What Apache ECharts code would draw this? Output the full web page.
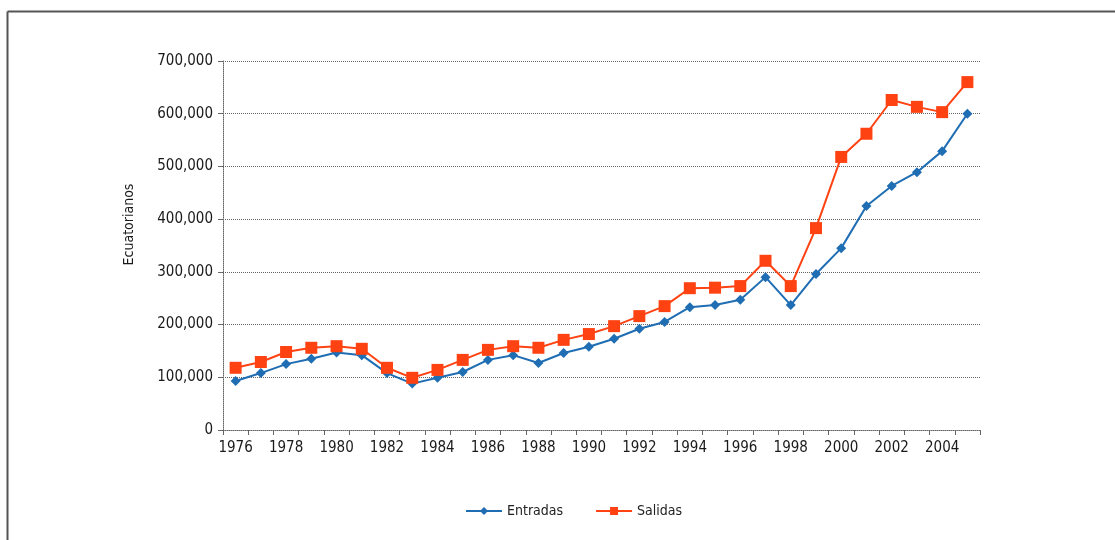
<!DOCTYPE html>
<html>
<head>
<meta charset="utf-8">
<script src="https://cdn.jsdelivr.net/npm/echarts@6/dist/echarts.min.js"></script>
<style>
html,body{margin:0;padding:0;background:#fff;}
#main{width:1115px;height:540px;}
</style>
</head>
<body>
<div id="main"></div>
<script>
const years = ['1976','1977','1978','1979','1980','1981','1982','1983','1984','1985','1986','1987','1988','1989','1990','1991','1992','1993','1994','1995','1996','1997','1998','1999','2000','2001','2002','2003','2004','2005'];
const entradas = [93000,108000,125000,135000,147000,142000,108000,88000,99000,110000,133000,142000,127000,146000,158000,173000,192000,205000,233000,237000,247000,290000,237000,296000,345000,425000,463000,489000,529000,600000];
const salidas = [118000,129000,148000,156000,159000,154000,118000,99000,114000,133000,152000,159000,156000,171000,182000,197000,216000,235000,269000,270000,273000,321000,273000,383000,518000,562000,626000,613000,603000,660000];
const yTicks = [0,100000,200000,300000,400000,500000,600000,700000];

const chart = echarts.init(document.getElementById('main'));
const fontFam = '"DejaVu Sans Condensed","DejaVu Sans",sans-serif';
chart.setOption({
  animation:false,
  backgroundColor:'#fff',
  graphic:[
    {type:'line',shape:{x1:7.5,y1:11.5,x2:1115,y2:11.5},style:{stroke:'#555',lineWidth:2}},
    {type:'line',shape:{x1:7.5,y1:11.5,x2:7.5,y2:540},style:{stroke:'#555',lineWidth:2}}
  ],
  grid:{left:223,right:135,top:61,bottom:110},
  legend:{
    bottom:17,left:460,itemGap:32,itemWidth:36,itemHeight:10,
    textStyle:{fontFamily:fontFam,fontSize:14,color:'#222'},
    data:['Entradas','Salidas']
  },
  xAxis:{
    type:'category',data:years,boundaryGap:true,
    axisLine:{lineStyle:{color:'#666',type:'dotted',width:1}},
    axisTick:{show:true,interval:0,length:5,lineStyle:{color:'#666'}},
    axisLabel:{interval:1,fontFamily:fontFam,fontSize:15,color:'#1a1a1a',margin:11}
  },
  yAxis:{
    type:'value',min:0,max:700000,interval:100000,
    name:'Ecuatorianos',nameLocation:'middle',nameGap:87,nameRotate:90,
    nameTextStyle:{fontFamily:fontFam,fontSize:14,color:'#1a1a1a',padding:[0,0,0,42]},
    axisLine:{show:true,lineStyle:{color:'#666',type:'dotted'}},
    axisTick:{show:true,length:5,lineStyle:{color:'#666'}},
    splitLine:{show:true,lineStyle:{color:'#666',type:'dotted',width:1}},
    axisLabel:{fontFamily:fontFam,fontSize:15,color:'#1a1a1a',margin:10,
      formatter:function(v){return yTicks.indexOf(v)>=0?v.toLocaleString('en-US'):'';}}
  },
  series:[
    {name:'Entradas',type:'line',data:entradas,symbol:'diamond',symbolSize:10,
     lineStyle:{color:'#1f6db3',width:2},itemStyle:{color:'#1f6db3'}},
    {name:'Salidas',type:'line',data:salidas,symbol:'rect',symbolSize:12,
     lineStyle:{color:'#ff4212',width:2},itemStyle:{color:'#ff4212'}}
  ]
});
</script>
</body>
</html>
